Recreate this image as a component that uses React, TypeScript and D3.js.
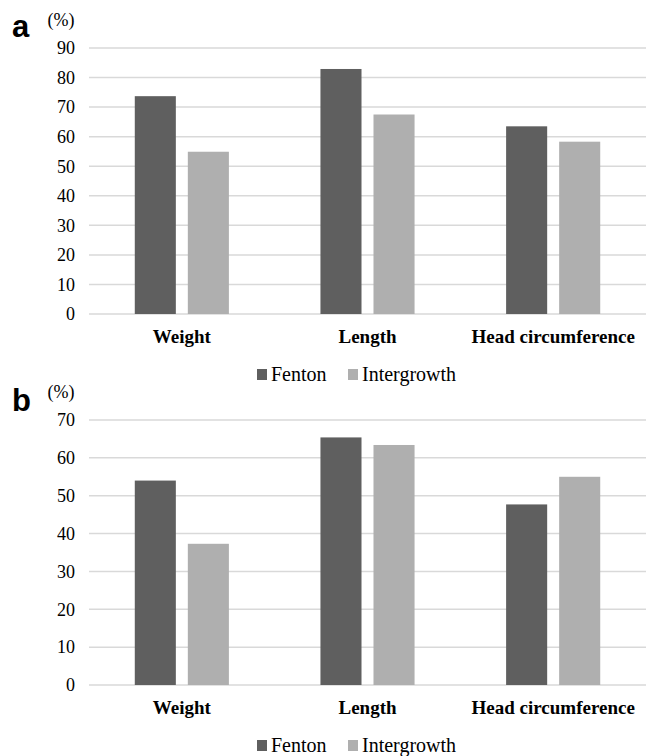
import React from 'react';
import * as d3 from 'd3';

const categories = ['Weight', 'Length', 'Head circumference'];
const seriesNames = ['Fenton', 'Intergrowth'];
const seriesColors = ['#5f5f5f', '#afafaf'];

// panel a
const fentonA = [73.7, 82.9, 63.5];
const intergrowthA = [54.9, 67.5, 58.3];
const ticksA = [0, 10, 20, 30, 40, 50, 60, 70, 80, 90];

// panel b
const fentonB = [54.0, 65.4, 47.7];
const intergrowthB = [37.3, 63.4, 55.0];
const ticksB = [0, 10, 20, 30, 40, 50, 60, 70];

const W = 648;
const H = 756;
const serif = "'Liberation Serif', 'Times New Roman', Times, 'DejaVu Serif', serif";
const sans = "'Liberation Sans', Arial, sans-serif";

type PanelProps = {
  letter: string;
  series: number[][];
  ticks: number[];
  y0: number;
  y1: number;
  letterY: number;
};

function Panel({ letter, series, ticks, y0, y1, letterY }: PanelProps) {
  const x = d3.scaleBand<string>().domain(categories).range([89, 646]).padding(0);
  const xs = d3
    .scaleBand<string>()
    .domain(seriesNames)
    .range([0, x.bandwidth()])
    .paddingInner(0.226)
    .paddingOuter(0.863);
  const y = d3
    .scaleLinear()
    .domain([0, d3.max(ticks) as number])
    .range([y0, y1]);

  const legendX = [257, 348];

  return (
    <g>
      <text x={12} y={letterY} style={{ fontFamily: sans, fontWeight: 'bold', fontSize: 31 }} fill="#000">
        {letter}
      </text>
      <text x={61} y={y1 - 22} textAnchor="middle" style={{ fontFamily: serif, fontSize: 18 }} fill="#000">
        (%)
      </text>

      {/* grid + ticks */}
      {ticks.map((t) => (
        <g key={t}>
          <line x1={89} x2={646} y1={y(t)} y2={y(t)} stroke="#d9d9d9" strokeWidth={1.5} />
          <text
            x={75}
            y={y(t)}
            dy="0.35em"
            textAnchor="end"
            style={{ fontFamily: serif, fontSize: 18 }}
            fill="#000"
          >
            {t}
          </text>
        </g>
      ))}

      {/* bars */}
      {series.map((vals, si) =>
        vals.map((v, ci) => (
          <rect
            key={`${si}-${ci}`}
            x={(x(categories[ci]) as number) + (xs(seriesNames[si]) as number)}
            y={y(v)}
            width={xs.bandwidth()}
            height={y(0) - y(v)}
            fill={seriesColors[si]}
          />
        ))
      )}

      {/* category labels */}
      {categories.map((c) => (
        <text
          key={c}
          x={(x(c) as number) + x.bandwidth() / 2}
          y={y0 + 29}
          textAnchor="middle"
          style={{ fontFamily: serif, fontWeight: 'bold', fontSize: 19 }}
          fill="#000"
        >
          {c}
        </text>
      ))}

      {/* legend */}
      {seriesNames.map((s, i) => (
        <g key={s}>
          <rect x={legendX[i]} y={y0 + 55} width={10} height={11} fill={seriesColors[i]} />
          <text x={legendX[i] + 14} y={y0 + 67} style={{ fontFamily: serif, fontSize: 20 }} fill="#000">
            {s}
          </text>
        </g>
      ))}
    </g>
  );
}

export default function App() {
  return (
    <svg
      width={W}
      height={H}
      style={{ position: 'absolute', left: 0, top: 0, background: '#fff' }}
    >
      <rect width={W} height={H} fill="#fff" />
      <Panel
        letter="a"
        series={[fentonA, intergrowthA]}
        ticks={ticksA}
        y0={314}
        y1={48}
        letterY={37}
      />
      <Panel
        letter="b"
        series={[fentonB, intergrowthB]}
        ticks={ticksB}
        y0={685}
        y1={420}
        letterY={411}
      />
    </svg>
  );
}
